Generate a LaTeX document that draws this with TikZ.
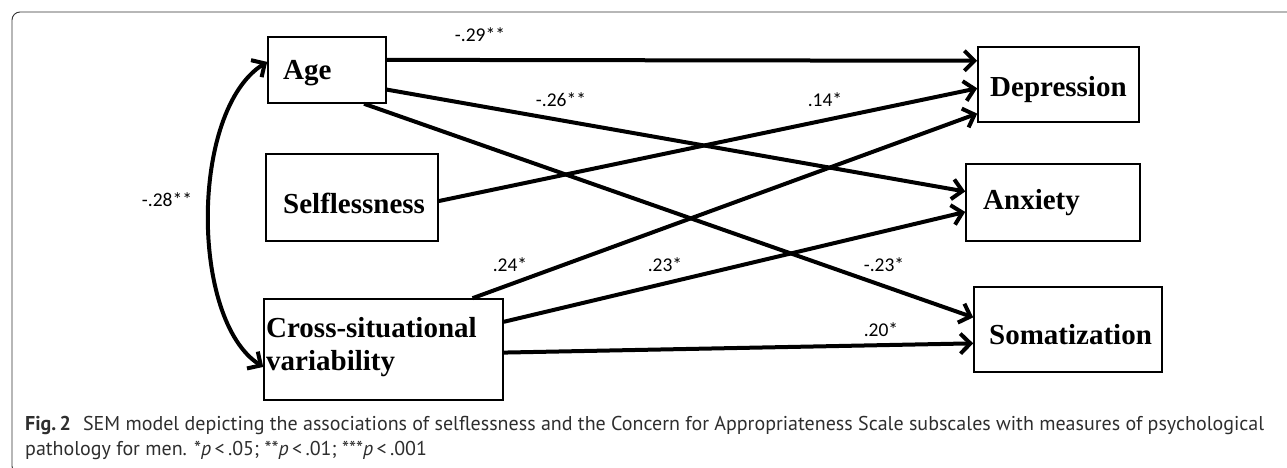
\documentclass[tikz,border=0pt]{standalone}
\usepackage{fontspec}
\setmainfont{Liberation Serif}
\newfontfamily\coeffont{Carlito}
\newfontfamily\capfont{PT Sans}
\usetikzlibrary{arrows.meta,calc}
\definecolor{framegray}{HTML}{333333}
\definecolor{captext}{HTML}{2E2E2E}
\begin{document}
\begin{tikzpicture}[x=1pt,y=-1pt,
  varbox/.style={draw, line width=1.6pt, inner sep=0pt},
  boxtext/.style={font=\fontsize{29}{33}\selectfont\bfseries, anchor=west, inner sep=0pt, align=left},
  coef/.style={font=\coeffont\fontsize{19.5}{21}\selectfont, inner sep=0pt},
  barb/.tip={Straight Barb[length=10pt,width=20pt]},
  effect/.style={line width=4pt, -barb},
  captxt/.style={font=\capfont\fontsize{20}{23}\selectfont, text=captext, anchor=base west, inner sep=0pt}
]
\useasboundingbox (0,0) rectangle (1287,468);
% frame
\draw[framegray, line width=0.9pt, rounded corners=8pt] (1295,12) -- (12,12) -- (12,474) -- (40,474);

% boxes
\node[varbox, minimum width=118pt, minimum height=66pt] (age) at (327,70) {};
\node[varbox, minimum width=172pt, minimum height=87pt] (self) at (352,197.5) {};
\node[varbox, minimum width=239pt, minimum height=101pt] (cross) at (383.5,349.5) {};
\node[varbox, minimum width=161pt, minimum height=75pt] (dep) at (1058.5,84.5) {};
\node[varbox, minimum width=174pt, minimum height=77pt] (anx) at (1053,202.5) {};
\node[varbox, minimum width=188pt, minimum height=85pt] (som) at (1068,329.5) {};

% box texts
\node[boxtext] (agetxt) at (283,73) {Age};
\node[boxtext] (selftxt) at (283,203) {Selflessness};
\node[boxtext] (crosstxt) at (266,347) {Cross-situational\\variability};
\node[boxtext] (deptxt) at (990,90) {Depression};
\node[boxtext] (anxtxt) at (983,203) {Anxiety};
\node[boxtext] (somtxt) at (989,335) {Somatization};

% paths
\draw[effect] ($(age.north east)!0.35!(age.south east)$) -- ($(dep.north west)!0.19!(dep.south west)$);
\draw[effect] ($(age.north east)!0.79!(age.south east)$) -- ($(anx.north west)!0.36!(anx.south west)$);
\draw[effect] ($(age.south west)!0.81!(age.south east)$) -- ($(som.north west)!0.36!(som.south west)$);
\draw[effect] ($(self.north east)!0.54!(self.south east)$) -- ($(dep.north west)!0.55!(dep.south west)$);
\draw[effect] ($(cross.north west)!0.87!(cross.north east)$) -- ($(dep.north west)!0.88!(dep.south west)$);
\draw[effect] ($(cross.north east)!0.23!(cross.south east)$) -- ($(anx.north west)!0.62!(anx.south west)$);
\draw[effect] ($(cross.north east)!0.53!(cross.south east)$) -- ($(som.north west)!0.66!(som.south west)$);

% covariance
\draw[line width=4pt, barb-barb] ($(cross.north west)!0.67!(cross.south west)$) .. controls (190,320) and (190,110) .. ($(age.north west)!0.38!(age.south west)$);

% coefficients
\node[coef] (c1) at (480,35) {-.29**};
\node[coef] (c2) at (561,100) {-.26**};
\node[coef] (c3) at (825,100) {.14*};
\node[coef] (c4) at (167,200) {-.28**};
\node[coef] (c5) at (510,265) {.24*};
\node[coef] (c6) at (665,265) {.23*};
\node[coef] (c7) at (884,265) {-.23*};
\node[coef] (c8) at (881,330) {.20*};

% caption
\node[captxt] (cap1) at (25,430) {\textbf{Fig.\,2}\hspace{0.6em}SEM model depicting the associations of selflessness and the Concern for Appropriateness Scale subscales with measures of psychological};
\node[captxt] (cap2) at (25,455) {pathology for men. *\textit{p}\,<\,.05; **\textit{p}\,<\,.01; ***\textit{p}\,<\,.001};
\end{tikzpicture}
\end{document}
